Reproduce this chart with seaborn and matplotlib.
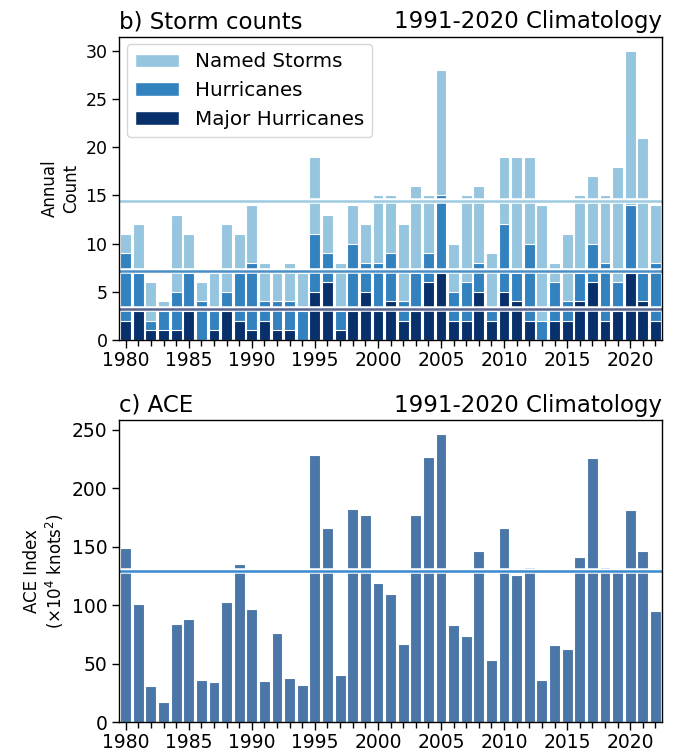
import numpy as np
import pandas as pd
import matplotlib
matplotlib.use("Agg")
import matplotlib.pyplot as plt
import matplotlib.patheffects as pe
from matplotlib.patches import Patch
import seaborn as sns

years = list(range(1980, 2023))
named_storms = [11, 12, 6, 4, 13, 11, 6, 7, 12, 11, 14, 8, 7, 8, 7, 19, 13, 8, 14, 12,
                15, 15, 12, 16, 15, 28, 10, 15, 16, 9, 19, 19, 19, 14, 8, 11, 15, 17, 15, 18,
                30, 21, 14]
hurricanes = [9, 7, 2, 3, 5, 7, 4, 3, 5, 7, 8, 4, 4, 4, 3, 11, 9, 3, 10, 8,
              8, 9, 4, 7, 9, 15, 5, 6, 8, 3, 12, 7, 10, 2, 6, 4, 7, 10, 8, 6,
              14, 7, 8]
major_hurricanes = [2, 3, 1, 1, 1, 3, 0, 1, 3, 2, 1, 2, 1, 1, 0, 5, 6, 1, 3, 5,
                    3, 4, 2, 3, 6, 7, 2, 2, 5, 2, 5, 4, 2, 0, 2, 2, 4, 6, 2, 3,
                    7, 4, 2]
ace = [149, 101, 31, 17, 84, 88, 36, 34, 103, 135, 97, 35, 76, 38, 32, 228, 166, 40, 182, 177,
       119, 110, 67, 177, 227, 246, 83, 74, 146, 53, 166, 126, 133, 36, 66, 63, 141, 226, 133, 132,
       181, 146, 95]

clim_named = 14.4
clim_hurr = 7.2
clim_major = 3.2
clim_ace = 129

series_labels = ["Named Storms", "Hurricanes", "Major Hurricanes"]
c_named = "#96c5e0"
c_hurr = "#3282bf"
c_major = "#08306b"
c_ace = "#4a76a8"

df = pd.DataFrame({"year": years, "named": named_storms, "hurr": hurricanes,
                   "major": major_hurricanes, "ace": ace})

fig = plt.figure(figsize=(6.9, 7.53), dpi=100)
ax1 = fig.add_axes([0.173, 0.5485, 0.786, 0.403])
ax2 = fig.add_axes([0.173, 0.0408, 0.786, 0.4014])

bw = 0.86
for col, c in [("named", c_named), ("hurr", c_hurr), ("major", c_major)]:
    sns.barplot(data=df, x="year", y=col, ax=ax1, color=c, native_scale=True,
                width=bw, edgecolor="white", linewidth=0.8, errorbar=None, saturation=1)

stroke = [pe.Stroke(linewidth=4, foreground="white"), pe.Normal()]
ax1.axhline(clim_named, color="#9ecae1", lw=1.8, path_effects=stroke)
ax1.axhline(clim_hurr, color="#4a90c8", lw=1.8, path_effects=stroke)
ax1.axhline(clim_major, color="#56628f", lw=1.8, path_effects=stroke)

sns.barplot(data=df, x="year", y="ace", ax=ax2, color=c_ace, native_scale=True,
            width=bw, edgecolor="white", linewidth=0.8, errorbar=None, saturation=1)
ax2.axhline(clim_ace, color="#3a8ad0", lw=1.8, path_effects=stroke)

for ax in (ax1, ax2):
    ax.set_xlim(1979.5, 2022.5)
    ax.set_xticks(list(range(1980, 2021, 5)))
    ax.set_xticks(years, minor=True)
    ax.tick_params(axis="x", which="major", length=6, width=1, labelsize=13.5, pad=2)
    ax.tick_params(axis="x", which="minor", length=4, width=1)
    ax.tick_params(axis="y", length=5, width=1)
    ax.set_xlabel("")
    for s in ax.spines.values():
        s.set_color("black")
        s.set_linewidth(1)

ax1.set_ylim(0, 31.5)
ax1.set_yticks([0, 5, 10, 15, 20, 25, 30])
ax1.tick_params(axis="y", labelsize=12.5)
ax1.set_ylabel("Annual\nCount", fontsize=12)
ax1.set_title("b) Storm counts", loc="left", fontsize=16.5, pad=6)
ax1.set_title("1991-2020 Climatology", loc="right", fontsize=16.5, pad=6)

handles = [Patch(facecolor=c_named, edgecolor="white"),
           Patch(facecolor=c_hurr, edgecolor="white"),
           Patch(facecolor=c_major, edgecolor="white")]
ax1.legend(handles, series_labels, loc="upper left", fontsize=14.3, frameon=True,
           borderaxespad=0.4, handlelength=2.2)

ax2.set_ylim(0, 258.3)
ax2.set_yticks([0, 50, 100, 150, 200, 250])
ax2.tick_params(axis="y", labelsize=13.5)
ax2.set_ylabel("ACE Index\n(\u00d710$^4$ knots$^2$)", fontsize=12)
ax2.set_title("c) ACE", loc="left", fontsize=16.5, pad=6)
ax2.set_title("1991-2020 Climatology", loc="right", fontsize=16.5, pad=6)

fig.savefig("out.png", dpi=100)
